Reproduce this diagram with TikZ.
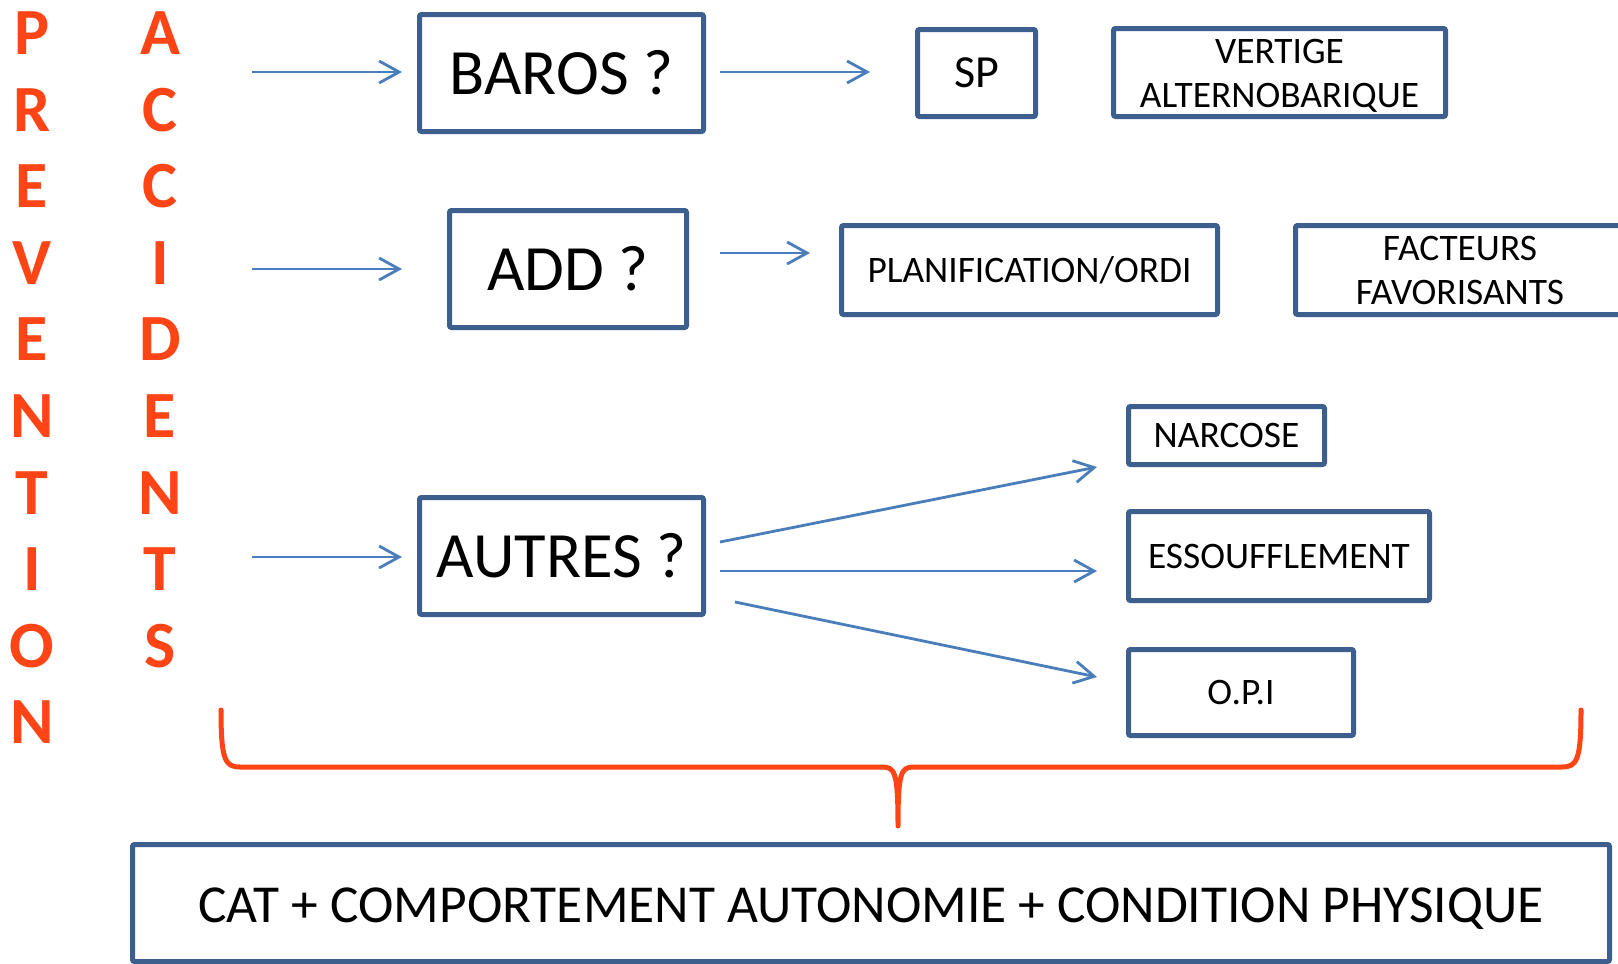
\documentclass[tikz,border=0pt]{standalone}
\usepackage{fontspec}
\setmainfont{Carlito}
\usetikzlibrary{arrows.meta}
\definecolor{boxblue}{HTML}{3C5F8E}
\definecolor{arrblue}{HTML}{4A7EBB}
\definecolor{orng}{HTML}{FF4515}
\tikzset{
  box/.style n args={2}{draw=boxblue, line width=2.5pt, rounded corners=1pt,
    minimum width={#1*0.5pt}, minimum height={#2*0.5pt}, inner sep=0pt,
    align=center, text=black},
  arr/.style={draw=arrblue, line width=1.4pt,
    -{Straight Barb[length=10pt,width=11pt,line width=1.4pt]}},
  letter/.style={text=orng, font=\fontsize{33}{33}\selectfont\bfseries},
  small/.style={font=\fontsize{18.7}{22}\selectfont},
  big/.style={font=\fontsize{32.3}{38}\selectfont},
  brace/.style={draw=orng, line width=2.5pt, line cap=round, line join=round},
}
\newcommand{\lowerby}[2]{\raisebox{-#1}[\height][\depth]{#2}}
\begin{document}
\begin{tikzpicture}[x=0.5pt,y=-0.5pt]
\useasboundingbox (0,0) rectangle (1618,964);
% vertical words
\foreach \L [count=\i from 0] in {P,R,E,V,E,N,T,I,O,N}
  \node[letter] (p\i) at (32,{33+76.6*\i}) {\L};
\foreach \L [count=\i from 0] in {A,C,C,I,D,E,N,T,S}
  \node[letter] (a\i) at (160,{33+76.6*\i}) {\L};
% boxes
\node[box={284}{117}, big] (baros) at (561.5,73) {BAROS ?};
\node[box={118}{87}, font=\fontsize{23}{27}\selectfont] (sp) at (976.5,73) {SP};
\node[box={332}{88}, small] (vert) at (1279.5,72.5) {\lowerby{1.5pt}{VERTIGE}\\\lowerby{1.5pt}{ALTERNOBARIQUE}};
\node[box={237}{117}, big] (add) at (568,269) {ADD ?};
\node[box={376}{89}, small] (plan) at (1029.5,270) {PLANIFICATION/ORDI};
\node[box={329}{89}, small] (fact) at (1460,270) {FACTEURS\\FAVORISANTS};
\node[box={284}{117}, big] (autres) at (561.5,556) {AUTRES ?};
\node[box={196}{58}, small] (narc) at (1226.5,435.5) {NARCOSE};
\node[box={301}{89}, small] (ess) at (1279,556) {ESSOUFFLEMENT};
\node[box={225}{86}, small] (opi) at (1241,692.5) {O.P.I};
\node[box={1477}{117}, font=\fontsize{26.7}{32}\selectfont] (cat) at (871,903)
  {\lowerby{3pt}{CAT + COMPORTEMENT AUTONOMIE + CONDITION PHYSIQUE}};
% arrow end points
\coordinate (s1) at (252,72);
\coordinate (s2) at (252,269);
\coordinate (s3) at (252,557);
\coordinate (e1) at (402,72);
\coordinate (e2) at (402,269);
\coordinate (e3) at (402,557);
\coordinate (bs) at (720,72);
\coordinate (be) at (870,72);
\coordinate (ds) at (720,253);
\coordinate (de) at (810,253);
\coordinate (f1s) at (720,542);
\coordinate (f1e) at (1097,467);
\coordinate (f2s) at (720,571);
\coordinate (f2e) at (1097,571);
\coordinate (f3s) at (735,602);
\coordinate (f3e) at (1097,677);
\draw[arr] (s1) -- (e1);
\draw[arr] (s2) -- (e2);
\draw[arr] (s3) -- (e3);
\draw[arr] (bs) -- (be);
\draw[arr] (ds) -- (de);
\draw[arr] (f1s) -- (f1e);
\draw[arr] (f2s) -- (f2e);
\draw[arr] (f3s) -- (f3e);
% brace
\coordinate (bl) at (221,710);
\coordinate (bt) at (898,826);
\coordinate (br) at (1581,710);
\draw[brace] (bl) .. controls (221,760) and (225,767) .. (240,767) -- (882,767)
  .. controls (895,767) and (898,772) .. (bt)
  .. controls (898,772) and (901,767) .. (914,767) -- (1562,767)
  .. controls (1577,767) and (1581,760) .. (br);
\end{tikzpicture}
\end{document}
